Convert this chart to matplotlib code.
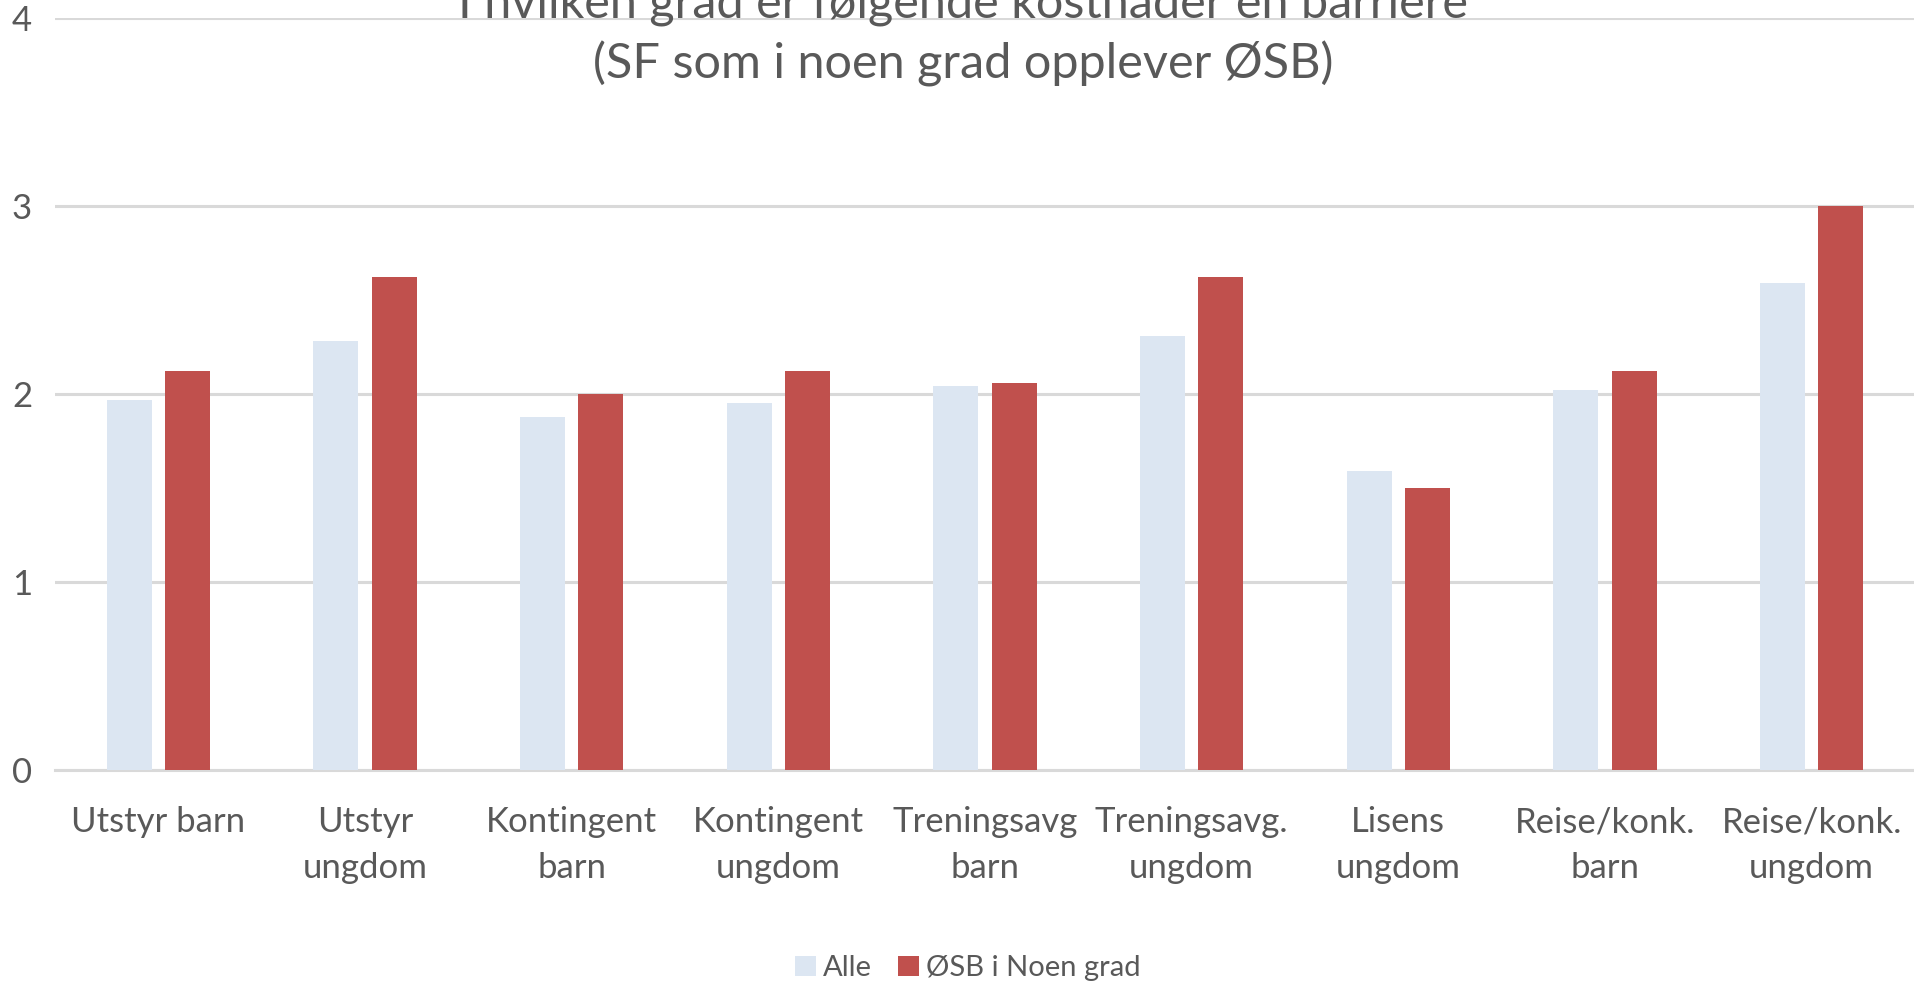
import matplotlib
matplotlib.use("Agg")
import matplotlib.pyplot as plt
import numpy as np

categories = ["Utstyr barn", "Utstyr\nungdom", "Kontingent\nbarn", "Kontingent\nungdom",
              "Treningsavg\nbarn", "Treningsavg.\nungdom", "Lisens\nungdom",
              "Reise/konk.\nbarn", "Reise/konk.\nungdom"]
alle = [1.97, 2.28, 1.88, 1.95, 2.04, 2.31, 1.59, 2.02, 2.59]
osb = [2.12, 2.62, 2.00, 2.12, 2.06, 2.62, 1.50, 2.12, 3.00]
series_names = ["Alle", "ØSB i Noen grad"]
yticks = [0, 1, 2, 3, 4]
title_lines = ["I hvilken grad er følgende kostnader en barriere",
               "(SF som i noen grad opplever ØSB)"]

plt.rcParams['font.family'] = ['Lato', 'DejaVu Sans']
text_color = "#595959"
c_alle = "#DCE6F2"
c_osb = "#C0504D"
grid_color = "#D9D9D9"

fig = plt.figure(figsize=(19.15, 9.85), dpi=100)
ax = fig.add_axes([55/1915, 1 - 770/985, 1 - 55/1915, (770 - 18)/985])

x = np.arange(len(categories))
w = 0.218
off = 0.1416
ax.bar(x - off, alle, width=w, color=c_alle, label=series_names[0], zorder=3)
ax.bar(x + off, osb, width=w, color=c_osb, label=series_names[1], zorder=3)

ax.set_xlim(-0.5, len(categories) - 0.5)
ax.set_ylim(0, 4)
ax.set_yticks(yticks)
ax.set_yticklabels([str(t) for t in yticks])
ax.set_xticks(x)
ax.set_xticklabels(categories, linespacing=1.55)
ax.tick_params(axis='both', length=0, colors=text_color, labelsize=25)
ax.tick_params(axis='x', pad=26)
ax.tick_params(axis='y', pad=31)
for lbl in ax.get_yticklabels():
    lbl.set_horizontalalignment('left')
ax.yaxis.grid(True, color=grid_color, linewidth=2.2, zorder=0)
ax.set_axisbelow(True)
for s in ["top", "right", "left"]:
    ax.spines[s].set_visible(False)
ax.spines["bottom"].set_color(grid_color)
ax.spines["bottom"].set_linewidth(2.2)

fig.text(0.503, 1 - 4/985, title_lines[0], ha='center', va='center', fontsize=35, color=text_color)
fig.text(0.503, 1 - 64/985, title_lines[1], ha='center', va='center', fontsize=35, color=text_color)

leg = fig.legend(loc='center', bbox_to_anchor=(0.5055, 1 - 968/985), ncol=2, frameon=False,
                 fontsize=21, handlelength=0.7, handleheight=0.7, handletextpad=0.25,
                 columnspacing=0.9)
for t in leg.get_texts():
    t.set_color(text_color)

fig.savefig("out.png", dpi=100)
